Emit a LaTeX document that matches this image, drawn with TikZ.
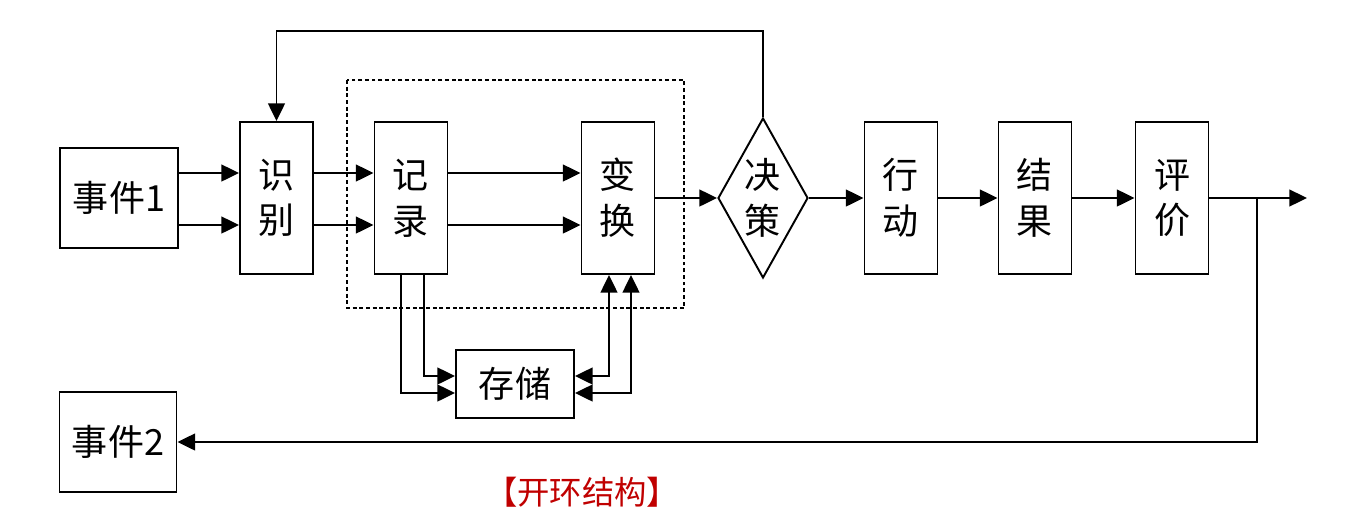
\documentclass[tikz,border=0pt]{standalone}
\usepackage{fontspec}
\setmainfont{Noto Sans CJK SC}
\usetikzlibrary{arrows.meta,shapes.geometric}
\definecolor{biaoti}{HTML}{C00000}
\tikzset{
    kuang/.style={draw, line width=1.1pt, inner sep=0pt, align=center, font=\fontsize{20.5}{26}\selectfont},
    shu/.style={kuang, minimum width=1.46cm, minimum height=3.04cm},
    xian/.style={line width=1.1pt},
}
\begin{document}
\begin{tikzpicture}[x=0.02cm, y=-0.02cm, >={Triangle[length=10pt,width=9.5pt]}]
    \useasboundingbox (0,0) rectangle (1367,522);
        \draw[line width=0.8pt, dash pattern=on 2.2pt off 1.6pt] (347,80) rectangle (684,308);
        \node[kuang, minimum width=2.36cm, minimum height=2cm] (e1) at (119,198){事件1};
        \node[kuang, minimum width=2.34cm, minimum height=2cm] (e2) at (118,442){事件2};
        \node[shu] (id) at (276.5,198){识\\别};
        \node[shu] (rec) at (411,198){记\\录};
        \node[shu] (tr) at (618,198){变\\换};
        \node[kuang, diamond, aspect=0.56, minimum width=1.8cm, minimum height=3.2cm] (dec) at (763,198){决\\策};
        \node[shu] (act) at (901,198){行\\动};
        \node[shu] (res) at (1035,198){结\\果};
        \node[shu] (ev) at (1172,198){评\\价};
        \node[kuang, minimum width=2.36cm, minimum height=1.36cm] (st) at (515,384){存储};
        \node[text=biaoti, font=\fontsize{18.4}{22}\selectfont] (title) at (582,492){【开环结构】};

        \coordinate (up) at (0,173);
        \coordinate (lo) at (0,225);
        \coordinate (top) at (0,31);
        \coordinate (out) at (1307,198);
        \coordinate (br) at (1257,198);
        \coordinate (ra) at (401,0);
        \coordinate (rb) at (424,0);
        \coordinate (ta) at (609,0);
        \coordinate (tb) at (631,0);
        \coordinate (sa) at (0,376);
        \coordinate (sb) at (0,393);

        \draw[xian,->] (e1.east |- up) -- (id.west |- up);
        \draw[xian,->] (e1.east |- lo) -- (id.west |- lo);
        \draw[xian,->] (id.east |- up) -- (rec.west |- up);
        \draw[xian,->] (id.east |- lo) -- (rec.west |- lo);
        \draw[xian,->] (rec.east |- up) -- (tr.west |- up);
        \draw[xian,->] (rec.east |- lo) -- (tr.west |- lo);
        \draw[xian,->] (tr.east) -- (dec.west);
        \draw[xian,->] (dec.east) -- (act.west);
        \draw[xian,->] (act.east) -- (res.west);
        \draw[xian,->] (res.east) -- (ev.west);
        \draw[xian,->] (ev.east) -- (out);
        \draw[xian,->] (br) |- (e2.east);
        \draw[xian,->] (dec.north) -- (dec.north |- top) -| (id.north);

        \draw[xian,->] (rec.south -| ra) |- (st.west |- sb);
        \draw[xian,->] (rec.south -| rb) |- (st.west |- sa);
        \draw[xian,<->] (st.east |- sa) -| (tr.south -| ta);
        \draw[xian,<->] (st.east |- sb) -| (tr.south -| tb);
\end{tikzpicture}
\end{document}
